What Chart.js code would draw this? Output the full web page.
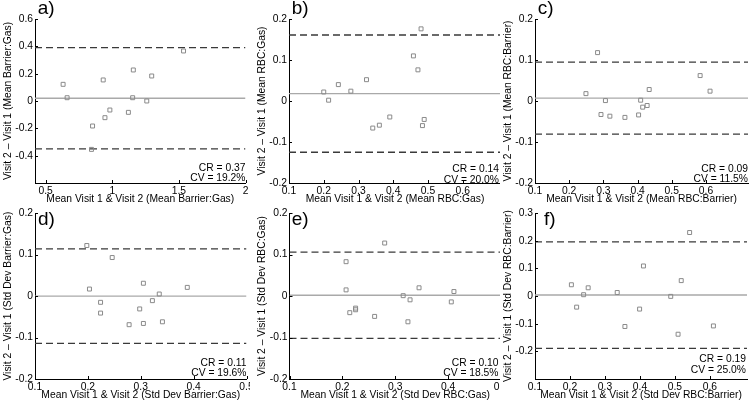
<!DOCTYPE html>
<html><head><meta charset="utf-8">
<script src="https://cdn.jsdelivr.net/npm/chart.js@4.4.1/dist/chart.umd.min.js"></script>
<style>
html,body{margin:0;padding:0;background:#fff;}
#wrap{position:relative;width:750px;height:403px;overflow:hidden;background:#fff;}
.cell{position:absolute;overflow:hidden;}
.cell canvas{position:absolute;left:0;top:0;}
</style></head><body>
<div id="wrap"></div>
<script>
// ---------- DATA ----------
const panelLetters = ['a)', 'b)', 'c)', 'd)', 'e)', 'f)'];
const xTitles = [
  'Mean Visit 1 & Visit 2 (Mean Barrier:Gas)',
  'Mean Visit 1 & Visit 2 (Mean RBC:Gas)',
  'Mean Visit 1 & Visit 2 (Mean RBC:Barrier)',
  'Mean Visit 1 & Visit 2 (Std Dev Barrier:Gas)',
  'Mean Visit 1 & Visit 2 (Std Dev RBC:Gas)',
  'Mean Visit 1 & Visit 2 (Std Dev RBC:Barrier)'
];
const yTitles = [
  'Visit 2 \u2013 Visit 1 (Mean Barrier:Gas)',
  'Visit 2 \u2013 Visit 1 (Mean RBC:Gas)',
  'Visit 2 \u2013 Visit 1 (Mean RBC:Barrier)',
  'Visit 2 \u2013 Visit 1 (Std Dev Barrier:Gas)',
  'Visit 2 \u2013 Visit 1 (Std Dev RBC:Gas)',
  'Visit 2 \u2013 Visit 1 (Std Dev RBC:Barrier)'
];
const crTexts = ['CR = 0.37', 'CR = 0.14', 'CR = 0.09', 'CR = 0.11', 'CR = 0.10', 'CR = 0.19'];
const cvTexts = ['CV = 19.2%', 'CV = 20.0%', 'CV = 11.5%', 'CV = 19.6%', 'CV = 18.5%', 'CV = 25.0%'];

// a) Mean Barrier:Gas
const meanA = [0.631, 0.661, 0.932, 0.852, 0.844, 0.945, 0.982, 1.121, 1.158, 1.153, 1.259, 1.296, 1.535];
const diffA = [0.122, 0.024, 0.154, -0.183, -0.354, -0.122, -0.066, -0.083, 0.227, 0.024, 0.000, 0.183, 0.366];
const limitsA = [-0.35, 0.02, 0.39];
// b) Mean RBC:Gas
const meanB = [0.200, 0.214, 0.242, 0.278, 0.323, 0.341, 0.360, 0.390, 0.458, 0.471, 0.480, 0.484, 0.489];
const diffB = [0.022, 0.002, 0.040, 0.024, 0.052, -0.066, -0.059, -0.039, 0.110, 0.076, 0.176, -0.060, -0.045];
const limitsB = [-0.125, 0.018, 0.161];
// c) Mean RBC:Barrier
const meanC = [0.249, 0.283, 0.293, 0.306, 0.319, 0.363, 0.403, 0.409, 0.415, 0.428, 0.434, 0.583, 0.612];
const diffC = [0.018, 0.118, -0.033, 0.001, -0.037, -0.040, -0.034, 0.002, -0.015, -0.011, 0.028, 0.062, 0.024];
const limitsC = [-0.081, 0.007, 0.095];
// d) Std Dev Barrier:Gas
const meanD = [0.198, 0.203, 0.246, 0.224, 0.224, 0.278, 0.305, 0.298, 0.305, 0.322, 0.335, 0.341, 0.388];
const diffD = [0.122, 0.017, 0.093, -0.015, -0.041, -0.069, 0.031, -0.031, -0.066, -0.011, 0.005, -0.062, 0.021];
const limitsD = [-0.114, 0.0, 0.114];
// e) Std Dev RBC:Gas
const meanE = [0.207, 0.207, 0.214, 0.225, 0.225, 0.261, 0.280, 0.315, 0.324, 0.328, 0.345, 0.406, 0.411];
const diffE = [0.083, 0.015, -0.040, -0.033, -0.029, -0.049, 0.128, 0.001, -0.062, -0.009, 0.020, -0.014, 0.011];
const limitsE = [-0.102, 0.002, 0.106];
// f) Std Dev RBC:Barrier
const meanF = [0.204, 0.219, 0.239, 0.252, 0.335, 0.357, 0.399, 0.410, 0.488, 0.509, 0.518, 0.542, 0.610];
const diffF = [0.041, -0.040, 0.005, 0.030, 0.013, -0.110, -0.047, 0.109, -0.001, -0.138, 0.056, 0.230, -0.108];
const limitsF = [-0.189, 0.004, 0.196];

// axis ranges and tick labels
const xRanges = [[0.42, 2.0], [0.1, 0.71], [0.1, 0.723], [0.1, 0.5], [0.1, 0.5], [0.1, 0.706]];
const yRanges = [[-0.6, 0.6], [-0.2, 0.2], [-0.2, 0.2], [-0.2, 0.2], [-0.2, 0.2], [-0.3, 0.3]];
const xTickVals = [
  [0.5, 1, 1.5, 2],
  [0.1, 0.2, 0.3, 0.4, 0.5, 0.6],
  [0.1, 0.2, 0.3, 0.4, 0.5, 0.6],
  [0.1, 0.2, 0.3, 0.4, 0.5],
  [0.1, 0.2, 0.3, 0.4, 0.5],
  [0.1, 0.2, 0.3, 0.4, 0.5, 0.6]
];
const yTickVals = [
  [-0.4, -0.2, 0, 0.2, 0.4, 0.6],
  [-0.2, -0.1, 0, 0.1, 0.2],
  [-0.2, -0.1, 0, 0.1, 0.2],
  [-0.2, -0.1, 0, 0.1, 0.2],
  [-0.2, -0.1, 0, 0.1, 0.2],
  [-0.2, -0.1, 0, 0.1, 0.2, 0.3]
];

const meansAll = [meanA, meanB, meanC, meanD, meanE, meanF];
const diffsAll = [diffA, diffB, diffC, diffD, diffE, diffF];
const limitsAll = [limitsA, limitsB, limitsC, limitsD, limitsE, limitsF];

// ---------- LAYOUT / STYLE ----------
const FONT = '"Liberation Sans", Arial, Helvetica, sans-serif';
const FS = 10.3;
const layouts = [
  {left: 0,   top: 0,   w: 250, h: 205, yW: 35,   padR: 34.5, padT: 19, xH: 22, xTP: 0,   yTP: 1.5, lx: 37.7, ly: 14, nx: 245.5, crDy: -14.7, cvDy: -4.7},
  {left: 250, top: 0,   w: 250, h: 205, yW: 39,   padR: 29,   padT: 19, xH: 22, xTP: 0,   yTP: 6,   lx: 41.7, ly: 14, nx: 249,   crDy: -13.4, cvDy: -3.2},
  {left: 500, top: 0,   w: 250, h: 205, yW: 35,   padR: 32,   padT: 19, xH: 22, xTP: 0,   yTP: 1.5, lx: 37.7, ly: 14, nx: 248,   crDy: -13.7, cvDy: -4},
  {left: 0,   top: 205, w: 250, h: 198, yW: 35,   padR: 33.5, padT: 8,  xH: 24, xTP: 1.5, yTP: 1.5, lx: 38,   ly: 20, nx: 246.5, crDy: -16,   cvDy: -6},
  {left: 250, top: 205, w: 250, h: 198, yW: 39.5, padR: 29,   padT: 8,  xH: 24, xTP: 1.5, yTP: 6,   lx: 41.7, ly: 20, nx: 248.5, crDy: -16,   cvDy: -6},
  {left: 500, top: 205, w: 250, h: 198, yW: 35,   padR: 33,   padT: 8,  xH: 24, xTP: 1.5, yTP: 1.5, lx: 44,   ly: 20, nx: 246,   crDy: -19.4, cvDy: -8.7}
];

const fmt = v => { const r = Math.round(v * 100) / 100; return r === 0 ? '0' : String(r); };

const overlay = {
  id: 'overlay',
  afterDatasetsDraw(chart, args, o) {
    const {ctx, chartArea} = chart;
    const xs = chart.scales.x, ys = chart.scales.y;
    ctx.save();
    ctx.strokeStyle = '#000';
    ctx.lineWidth = 1;
    ctx.beginPath();
    xs.ticks.forEach(t => {
      const px = Math.round(xs.getPixelForValue(t.value)) + 0.5;
      ctx.moveTo(px, chartArea.bottom); ctx.lineTo(px, chartArea.bottom - 3);
    });
    ys.ticks.forEach(t => {
      const py = Math.round(ys.getPixelForValue(t.value)) + 0.5;
      ctx.moveTo(chartArea.left, py); ctx.lineTo(chartArea.left + 3, py);
    });
    ctx.stroke();
    ctx.fillStyle = '#000';
    ctx.font = '19px ' + FONT;
    ctx.textAlign = 'left'; ctx.textBaseline = 'alphabetic';
    ctx.fillText(o.letter, o.lx, o.ly);
    ctx.font = FS + 'px ' + FONT;
    ctx.textAlign = 'right'; ctx.textBaseline = 'middle';
    ctx.fillText(o.cr, o.nx, chartArea.bottom + o.crDy);
    ctx.fillText(o.cv, o.nx, chartArea.bottom + o.cvDy);
    ctx.restore();
  }
};

const wrap = document.getElementById('wrap');
layouts.forEach((L, i) => {
  const cell = document.createElement('div');
  cell.className = 'cell';
  cell.style.left = L.left + 'px'; cell.style.top = L.top + 'px';
  cell.style.width = L.w + 'px'; cell.style.height = L.h + 'px';
  const cv = document.createElement('canvas');
  cv.width = 280; cv.height = L.h;
  cv.style.width = '280px'; cv.style.height = L.h + 'px';
  cell.appendChild(cv); wrap.appendChild(cell);

  const [xmin, xmax] = xRanges[i];
  const [ymin, ymax] = yRanges[i];
  const lim = limitsAll[i];
  const pts = meansAll[i].map((m, k) => ({x: m, y: diffsAll[i][k]}));
  const hline = v => [{x: xmin, y: v}, {x: xmax, y: v}];

  new Chart(cv, {
    type: 'scatter',
    data: {
      datasets: [
        {data: hline(lim[1]), showLine: true, borderColor: '#a9a9a9', borderWidth: 1.3, pointRadius: 0, order: 3},
        {data: hline(lim[2]), showLine: true, borderColor: '#3a3a3a', borderWidth: 1.3, borderDash: [7, 4], pointRadius: 0, order: 2},
        {data: hline(lim[0]), showLine: true, borderColor: '#3a3a3a', borderWidth: 1.3, borderDash: [7, 4], pointRadius: 0, order: 2},
        {data: pts, pointStyle: 'rect', pointRadius: 2.8, pointBorderWidth: 1, borderColor: '#8a8a8a', backgroundColor: 'rgba(0,0,0,0)', pointBackgroundColor: 'rgba(0,0,0,0)', pointBorderColor: '#8a8a8a', order: 1}
      ]
    },
    options: {
      responsive: false, animation: false, devicePixelRatio: 1,
      layout: {padding: {left: 0, right: L.padR, top: L.padT, bottom: 0}},
      plugins: {
        legend: {display: false}, tooltip: {enabled: false},
        overlay: {letter: panelLetters[i], cr: crTexts[i], cv: cvTexts[i], lx: L.lx, ly: L.ly, nx: L.nx, crDy: L.crDy, cvDy: L.cvDy}
      },
      scales: {
        x: {
          type: 'linear', min: xmin, max: xmax,
          grid: {display: false, drawTicks: false},
          border: {display: true, color: '#000', width: 1},
          afterBuildTicks: s => { s.ticks = xTickVals[i].map(v => ({value: v})); },
          afterFit: s => { s.height = L.xH; },
          ticks: {autoSkip: false, maxRotation: 0, padding: 2, color: '#000', font: {family: FONT, size: FS}, callback: v => fmt(v)},
          title: {display: true, text: xTitles[i], color: '#000', font: {family: FONT, size: FS}, padding: {top: 0, bottom: L.xTP}}
        },
        y: {
          type: 'linear', min: ymin, max: ymax,
          grid: {display: false, drawTicks: false},
          border: {display: true, color: '#000', width: 1},
          afterBuildTicks: s => { s.ticks = yTickVals[i].map(v => ({value: v})); },
          afterFit: s => { s.width = L.yW; },
          ticks: {autoSkip: false, padding: 2, color: '#000', font: {family: FONT, size: FS}, callback: v => fmt(v)},
          title: {display: true, text: yTitles[i], color: '#000', font: {family: FONT, size: FS}, padding: {top: L.yTP, bottom: 0}}
        }
      }
    },
    plugins: [overlay]
  });
});
</script>
</body></html>
